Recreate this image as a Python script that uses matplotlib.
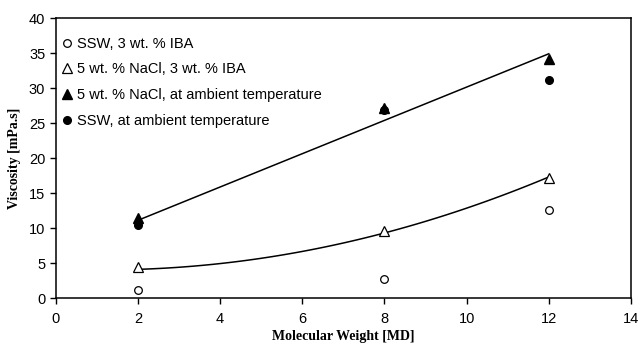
import numpy as np
import matplotlib
matplotlib.use("Agg")
from matplotlib import pyplot as plt

# molecular weight of the polymer [MD]
mw = [2, 8, 12]

# viscosity [mPa.s] for each brine / additive combination
ssw_iba = [1.1, 2.7, 12.6]
nacl_iba = [4.5, 9.6, 17.2]
nacl_ambient = [11.5, 27.1, 34.2]
ssw_ambient = [10.5, 26.9, 31.1]

# trend lines drawn over the data
trend_high = [11.1, 25.4, 34.9]
trend_low = [4.1, 9.3, 17.3]

plt.rcParams['font.family'] = ['Liberation Sans', 'DejaVu Sans']

fig = plt.figure(figsize=(6.38, 3.49), dpi=100)
ax = fig.add_axes([0.0873, 0.146, 0.9017, 0.802])

xs = np.linspace(min(mw), max(mw), 100)
high = np.polyval(np.polyfit(mw, trend_high, 1), xs)
low = np.polyval(np.polyfit(mw, trend_low, 2), xs)
ax.plot(xs, high, color='black', lw=1.1)
ax.plot(xs, low, color='black', lw=1.1)

ms = 5.5
ax.plot(mw, ssw_iba, 'o', ms=ms, mfc='white', mec='black', mew=0.9,
        label="SSW, 3 wt. % IBA")
ax.plot(mw, nacl_iba, '^', ms=ms + 1, mfc='white', mec='black', mew=0.9,
        label="5 wt. % NaCl, 3 wt. % IBA")
ax.plot(mw, nacl_ambient, '^', ms=ms + 1, color='black',
        label="5 wt. % NaCl, at ambient temperature")
ax.plot(mw, ssw_ambient, 'o', ms=ms, color='black',
        label="SSW, at ambient temperature")

ax.set_xlim(0, 14)
ax.set_ylim(0, 40)
ax.set_xticks(range(0, 15, 2))
ax.set_yticks(range(0, 41, 5))
ax.tick_params(direction='out', length=4, width=1, labelsize=10.5, colors='black')
ax.tick_params(axis='x', pad=6)
for s in ax.spines.values():
    s.set_linewidth(1.1)

ax.set_xlabel("Molecular Weight [MD]", family='Liberation Serif',
              fontweight='bold', fontsize=10, labelpad=3)
ax.set_ylabel("Viscosity [mPa.s]", family='Liberation Serif',
              fontweight='bold', fontsize=10, labelpad=6)

ax.legend(loc='upper left', frameon=False, fontsize=10.5, handlelength=0.6,
          handletextpad=0.4, labelspacing=0.8, borderaxespad=0.3,
          bbox_to_anchor=(-0.006, 0.97))

fig.savefig("out.png", dpi=100)
